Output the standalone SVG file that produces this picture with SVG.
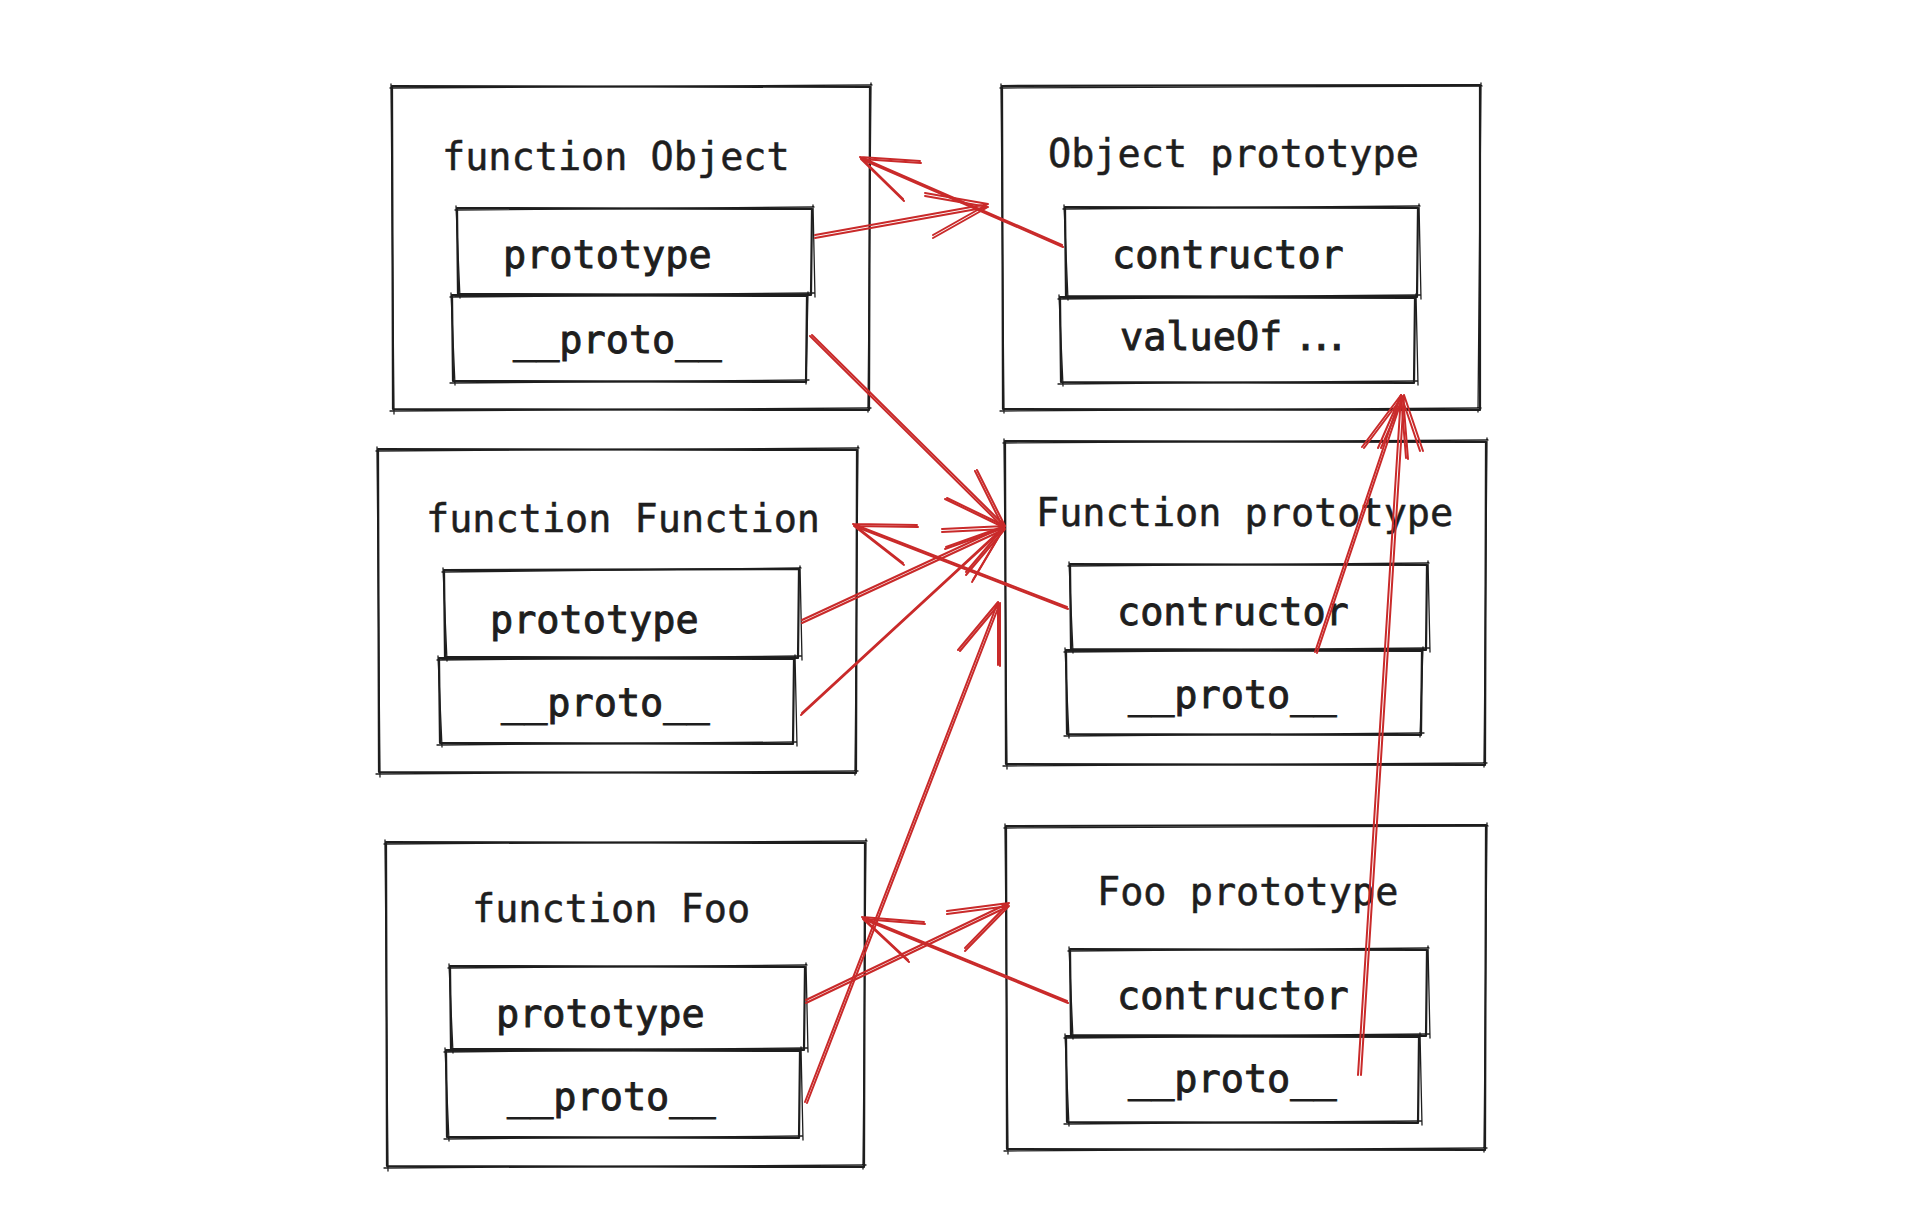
<svg xmlns="http://www.w3.org/2000/svg" xmlns:xlink="http://www.w3.org/1999/xlink" width="1922" height="1214" viewBox="0 0 1922 1214">
<style>
.bx{fill:none;stroke:#1e1e1e;stroke-width:2.2;stroke-linecap:round;stroke-linejoin:round}
.bx2{fill:none;stroke:#1e1e1e;stroke-width:1.3;stroke-linecap:round}
.t{font-family:"DejaVu Sans Mono","Liberation Mono",monospace;font-size:38.5px;fill:#1e1e1e;stroke:#1e1e1e;stroke-width:0.5}
.s{stroke-width:0.9}
.ar{fill:none;stroke:#c92a2a;stroke-width:2;stroke-linecap:round;stroke-linejoin:round}
.ar2{fill:none;stroke:#c92a2a;stroke-width:1.1;stroke-linecap:round}
</style>
<rect width="1922" height="1214" fill="#ffffff"/>

<g id="function-object">
<path class="bx" d="M392 86 L870 87 L869 410 L393 409 Z"/>
<path class="bx2" d="M390 88 L872 85 M871 83 L868 412 M871 408 L390 411 M394 414 L391 84"/>
<text class="t" x="442" y="170">function Object</text>
<g id="function-object-prototype">
<path class="bx" d="M457 208 L812 209 L811 295 L458 294 Z"/>
<path class="bx2" d="M455 210 L814 207 M813 205 L815 297 M814 293 L455 296 M460 298 L456 206"/>
<text class="t s" x="503" y="268">prototype</text>
</g>
<g id="function-object-proto">
<path class="bx" d="M452 295 L807 296 L806 382 L453 381 Z"/>
<path class="bx2" d="M450 297 L809 294 M808 292 L806 384 M809 380 L450 383 M455 385 L451 293"/>
<text class="t s" x="513" y="353">__proto__</text>
</g>
</g>

<g id="object-prototype">
<path class="bx" d="M1002 86 L1480 85 L1480 410 L1003 409 Z"/>
<path class="bx2" d="M1000 88 L1482 86 M1481 83 L1478 412 M1481 408 L1000 411 M1004 413 L1001 84"/>
<text class="t" x="1048" y="167">Object prototype</text>
<g id="object-prototype-contructor">
<path class="bx" d="M1065 207 L1418 208 L1417 297 L1066 296 Z"/>
<path class="bx2" d="M1063 209 L1420 206 M1419 204 L1421 299 M1420 295 L1063 298 M1068 300 L1064 205"/>
<text class="t s" x="1112" y="268">contructor</text>
</g>
<g id="object-prototype-valueof">
<path class="bx" d="M1060 297 L1415 298 L1414 383 L1061 382 Z"/>
<path class="bx2" d="M1058 299 L1417 296 M1416 294 L1418 385 M1417 381 L1058 384 M1063 386 L1059 295"/>
<text class="t s" x="1120" y="350">valueOf<tspan x="1294" letter-spacing="-7.5">...</tspan></text>
</g>
</g>

<g id="function-function">
<path class="bx" d="M378 449 L857 450 L856 773 L379 772 Z"/>
<path class="bx2" d="M376 451 L859 448 M858 446 L855 775 M858 771 L376 774 M380 777 L377 447"/>
<text class="t" x="426" y="532">function Function</text>
<g id="function-function-prototype">
<path class="bx" d="M444 570 L799 569 L798 658 L445 657 Z"/>
<path class="bx2" d="M442 572 L801 568 M800 566 L802 660 M801 656 L442 659 M447 661 L443 568"/>
<text class="t s" x="490" y="633">prototype</text>
</g>
<g id="function-function-proto">
<path class="bx" d="M439 658 L794 659 L793 744 L440 743 Z"/>
<path class="bx2" d="M437 660 L796 657 M795 655 L797 746 M796 742 L437 745 M442 747 L438 656"/>
<text class="t s" x="501" y="716">__proto__</text>
</g>
</g>

<g id="function-prototype">
<path class="bx" d="M1005 441 L1486 442 L1485 765 L1006 764 Z"/>
<path class="bx2" d="M1003 443 L1488 440 M1487 438 L1484 767 M1487 763 L1003 766 M1007 769 L1004 439"/>
<text class="t" x="1036" y="526">Function prototype</text>
<g id="function-prototype-contructor">
<path class="bx" d="M1070 564 L1427 565 L1426 650 L1071 649 Z"/>
<path class="bx2" d="M1068 566 L1429 563 M1428 561 L1430 652 M1429 648 L1068 651 M1073 653 L1069 562"/>
<text class="t s" x="1117" y="625">contructor</text>
</g>
<g id="function-prototype-proto">
<path class="bx" d="M1066 650 L1422 651 L1421 735 L1067 734 Z"/>
<path class="bx2" d="M1064 652 L1424 649 M1423 647 L1420 737 M1424 733 L1064 736 M1069 738 L1065 648"/>
<text class="t s" x="1128" y="708">__proto__</text>
</g>
</g>

<g id="function-foo">
<path class="bx" d="M386 842 L865 843 L864 1167 L387 1166 Z"/>
<path class="bx2" d="M384 844 L867 841 M866 839 L863 1169 M866 1165 L384 1168 M388 1171 L385 840"/>
<text class="t" x="472" y="922">function Foo</text>
<g id="function-foo-prototype">
<path class="bx" d="M450 966 L805 967 L804 1050 L451 1049 Z"/>
<path class="bx2" d="M448 968 L807 965 M806 963 L808 1052 M807 1048 L448 1051 M453 1053 L449 964"/>
<text class="t s" x="496" y="1027">prototype</text>
</g>
<g id="function-foo-proto">
<path class="bx" d="M446 1050 L800 1051 L799 1138 L447 1137 Z"/>
<path class="bx2" d="M444 1052 L802 1049 M801 1047 L803 1140 M802 1136 L444 1139 M449 1141 L445 1048"/>
<text class="t s" x="507" y="1110">__proto__</text>
</g>
</g>

<g id="foo-prototype">
<path class="bx" d="M1006 826 L1486 825 L1485 1150 L1007 1149 Z"/>
<path class="bx2" d="M1004 828 L1488 826 M1487 823 L1484 1152 M1487 1148 L1004 1151 M1008 1154 L1005 824"/>
<text class="t" x="1097" y="905">Foo prototype</text>
<g id="foo-prototype-contructor">
<path class="bx" d="M1070 949 L1427 950 L1426 1036 L1071 1035 Z"/>
<path class="bx2" d="M1068 951 L1429 948 M1428 946 L1430 1038 M1429 1034 L1068 1037 M1073 1039 L1069 947"/>
<text class="t s" x="1117" y="1009">contructor</text>
</g>
<g id="foo-prototype-proto">
<path class="bx" d="M1066 1036 L1419 1037 L1418 1123 L1067 1122 Z"/>
<path class="bx2" d="M1064 1038 L1421 1035 M1420 1033 L1422 1125 M1421 1121 L1064 1124 M1069 1126 L1065 1034"/>
<text class="t s" x="1128" y="1092">__proto__</text>
</g>
</g>

<g id="connectors">
<path id="cA" class="ar" d="M1062 245 L860 157 M920 161 L860 157 L903 199"/>
<path id="cB" class="ar" d="M815 235 L988 204 M925 193 L988 204 L933 235"/>
<path id="cC" class="ar" d="M812 335 L1005 526 M977 470 L1005 526 L947 498"/>
<path id="cD" class="ar" d="M1067 607 L853 524 M917 525 L853 524 L903 563"/>
<path id="cE" class="ar" d="M802 620 L1005 526 M942 529 L1005 526 L966 572"/>
<path id="cF" class="ar" d="M802 713 L1005 526 M973 580 L1005 526 L946 547"/>
<path id="cG" class="ar" d="M805 1102 L998 602 M958 650 L998 602 L998 665"/>
<path id="cH" class="ar" d="M1067 1001 L862 917 M924 922 L862 917 L908 960"/>
<path id="cI" class="ar" d="M806 1000 L1009 903 M947 911 L1009 903 L965 948"/>
<path id="cJ" class="ar" d="M1315 652 L1401 395 M1362 447 L1401 395 L1406 458"/>
<path id="cK" class="ar" d="M1358 1075 L1401 395 M1378 448 L1401 395 L1420 451"/>
<use xlink:href="#cA" class="ar2" transform="translate(1,2)"/>
<use xlink:href="#cB" class="ar2" transform="translate(0,3)"/>
<use xlink:href="#cC" class="ar2" transform="translate(-2,1)"/>
<use xlink:href="#cD" class="ar2" transform="translate(1,2)"/>
<use xlink:href="#cE" class="ar2" transform="translate(0,3)"/>
<use xlink:href="#cF" class="ar2" transform="translate(-1,2)"/>
<use xlink:href="#cG" class="ar2" transform="translate(2,1)"/>
<use xlink:href="#cH" class="ar2" transform="translate(1,2)"/>
<use xlink:href="#cI" class="ar2" transform="translate(0,3)"/>
<use xlink:href="#cJ" class="ar2" transform="translate(2,1)"/>
<use xlink:href="#cK" class="ar2" transform="translate(3,0)"/>
</g>
</svg>
